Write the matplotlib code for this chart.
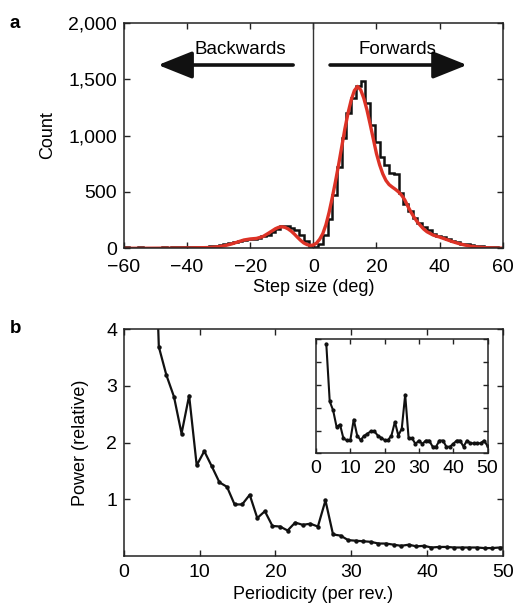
import numpy as np
import matplotlib
matplotlib.use("Agg")
import matplotlib.pyplot as plt
from matplotlib.ticker import FuncFormatter

plt.rcParams['font.family'] = ['Liberation Sans', 'DejaVu Sans']
plt.rcParams['font.size'] = 13
plt.rcParams['xtick.labelsize'] = 14
plt.rcParams['ytick.labelsize'] = 14

# panel a: step-size histogram (1.5 deg bins from -60 to 60)
bin_edges = np.linspace(-60, 60, 81)
counts = [8, 5, 5, 10, 6, 4, 7, 5, 8, 6,
          8, 10, 9, 10, 11, 12, 14, 16, 20, 24,
          30, 38, 48, 58, 66, 74, 80, 86, 92, 108,
          122, 145, 172, 198, 196, 178, 158, 118, 62, 18,
          12, 35, 115, 260, 470, 720, 980, 1200, 1330, 1440,
          1480, 1290, 1090, 940, 810, 740, 670, 660, 490, 390,
          330, 270, 225, 190, 160, 130, 112, 98, 82, 66,
          52, 42, 36, 30, 24, 20, 15, 11, 8, 6]

# fitted curve
fit_x = [-60, -55, -50, -45, -40, -36, -33, -30, -28, -26, -24, -22, -20, -18, -16, -14,
         -12, -11, -10, -9, -8, -7, -6, -5, -4, -3, -2, -1, 0, 1, 2, 3, 4, 5, 6, 7, 8, 9,
         10, 11, 12, 13, 14, 15, 16, 17, 18, 19, 20, 21, 22, 23, 24, 25, 26, 27, 28, 29,
         30, 31, 32, 33, 34, 35, 36, 38, 40, 42, 44, 46, 48, 50, 52, 55, 60]
fit_y = [0, 0.5, 1, 2, 3, 5, 7, 14, 24, 38, 56, 74, 83, 88, 104, 138,
         174, 186, 191, 186, 172, 152, 126, 97, 70, 47, 33, 26, 29, 46, 80, 130, 210, 320, 450, 590, 740, 900,
         1060, 1200, 1315, 1398, 1435, 1405, 1330, 1225, 1100, 970, 840, 740, 660, 602, 565, 543, 523, 500, 470, 428,
         370, 318, 272, 232, 200, 170, 147, 117, 100, 80, 60, 43, 29, 18, 11, 5, 1]

# panel b: power spectrum
per_x = [3.6, 4.6, 5.6, 6.6, 7.6, 8.6, 9.6, 10.6, 11.6, 12.6, 13.6, 14.6, 15.6, 16.6, 17.6, 18.6,
         19.6, 20.6, 21.6, 22.6, 23.6, 24.6, 25.6, 26.6, 27.6, 28.6, 29.6, 30.6, 31.6, 32.6, 33.6,
         34.6, 35.6, 36.6, 37.6, 38.6, 39.6, 40.6, 41.6, 42.6, 43.6, 44.6, 45.6, 46.6, 47.6, 48.6,
         49.6, 50.6]
power = [7.7, 3.69, 3.19, 2.81, 2.16, 2.83, 1.60, 1.85, 1.58, 1.30, 1.22, 0.91, 0.91, 1.08, 0.67, 0.79,
         0.53, 0.52, 0.45, 0.59, 0.55, 0.57, 0.52, 0.98, 0.38, 0.36, 0.28, 0.27, 0.26, 0.25, 0.22,
         0.22, 0.20, 0.18, 0.20, 0.17, 0.18, 0.15, 0.16, 0.16, 0.15, 0.15, 0.15, 0.15, 0.14, 0.14,
         0.15, 0.15]

# inset
ins_x = list(range(3, 51))
ins_y = [4.80, 2.28, 1.88, 1.16, 1.26, 0.65, 0.57, 0.57, 1.48, 0.78, 0.58, 0.76, 0.86, 0.97, 0.97, 0.78,
         0.68, 0.58, 0.58, 0.78, 1.38, 0.78, 1.08, 2.57, 0.66, 0.66, 0.41, 0.56, 0.41, 0.56, 0.56, 0.29,
         0.29, 0.56, 0.56, 0.29, 0.29, 0.41, 0.56, 0.56, 0.29, 0.56, 0.44, 0.44, 0.44, 0.44, 0.56, 0.32]


def style(ax, lw=1.1, length=4, xpad=6):
    for s in ax.spines.values():
        s.set_linewidth(lw)
        s.set_color('#222222')
    ax.tick_params(direction='in', top=True, right=True, length=length, width=1,
                   color='#222222')
    ax.tick_params(axis='x', pad=xpad)
    ax.tick_params(axis='y', pad=5)


fig = plt.figure(figsize=(5.16, 6.07), dpi=100)

# ---- a ----
axa = fig.add_axes([0.2403, 0.5909, 0.7339, 0.3717])
axa.axvline(0, color='#333333', lw=1.0)
axa.stairs(counts, bin_edges, color='#111111', lw=1.8)
axa.plot(fit_x, fit_y, color='#dd3226', lw=2.4, solid_joinstyle='round')
axa.set_xlim(-60, 60)
axa.set_ylim(0, 2000)
axa.set_xticks([-60, -40, -20, 0, 20, 40, 60])
axa.set_yticks([0, 500, 1000, 1500, 2000])
axa.yaxis.set_major_formatter(FuncFormatter(lambda v, p: f"{int(v):,}"))
axa.set_xlabel('Step size (deg)', labelpad=2)
axa.set_ylabel('Count', labelpad=9)
style(axa, xpad=8)

arrow_kw = dict(arrowstyle='-|>,head_length=1.5,head_width=0.6', color='#111111', lw=2.6,
                shrinkA=0, shrinkB=0, mutation_scale=14)
axa.annotate('', xy=(-49.2, 1625), xytext=(-6.4, 1625), arrowprops=arrow_kw)
axa.annotate('', xy=(48.7, 1625), xytext=(5.3, 1625), arrowprops=arrow_kw)
axa.text(-23, 1765, 'Backwards', ha='center', va='center', fontsize=13.5)
axa.text(26.7, 1765, 'Forwards', ha='center', va='center', fontsize=13.5)

fig.text(0.019, 0.975, 'a', fontweight='bold', fontsize=13.5, va='top')

# ---- b ----
axb = fig.add_axes([0.2403, 0.0840, 0.7339, 0.3735])
axb.plot(per_x, power, color='#111111', lw=1.6, marker='o', ms=2.2)
axb.set_xlim(0, 50)
axb.set_ylim(0, 4)
axb.set_xticks([0, 10, 20, 30, 40, 50])
axb.set_yticks([1, 2, 3, 4])
axb.set_xlabel('Periodicity (per rev.)', labelpad=3)
axb.set_ylabel('Power (relative)', labelpad=12)
style(axb)

fig.text(0.019, 0.473, 'b', fontweight='bold', fontsize=13.5, va='top')

axi = fig.add_axes([0.6124, 0.2532, 0.3324, 0.1878])
axi.plot(ins_x, ins_y, color='#111111', lw=1.5, marker='o', ms=2.0)
axi.set_xlim(0, 50)
axi.set_ylim(0, 5)
axi.set_xticks([0, 10, 20, 30, 40, 50])
axi.set_yticks([0, 1, 2, 3, 4, 5])
axi.set_yticklabels([])
style(axi, length=3.5, xpad=5)

fig.savefig('out.png', dpi=100)
